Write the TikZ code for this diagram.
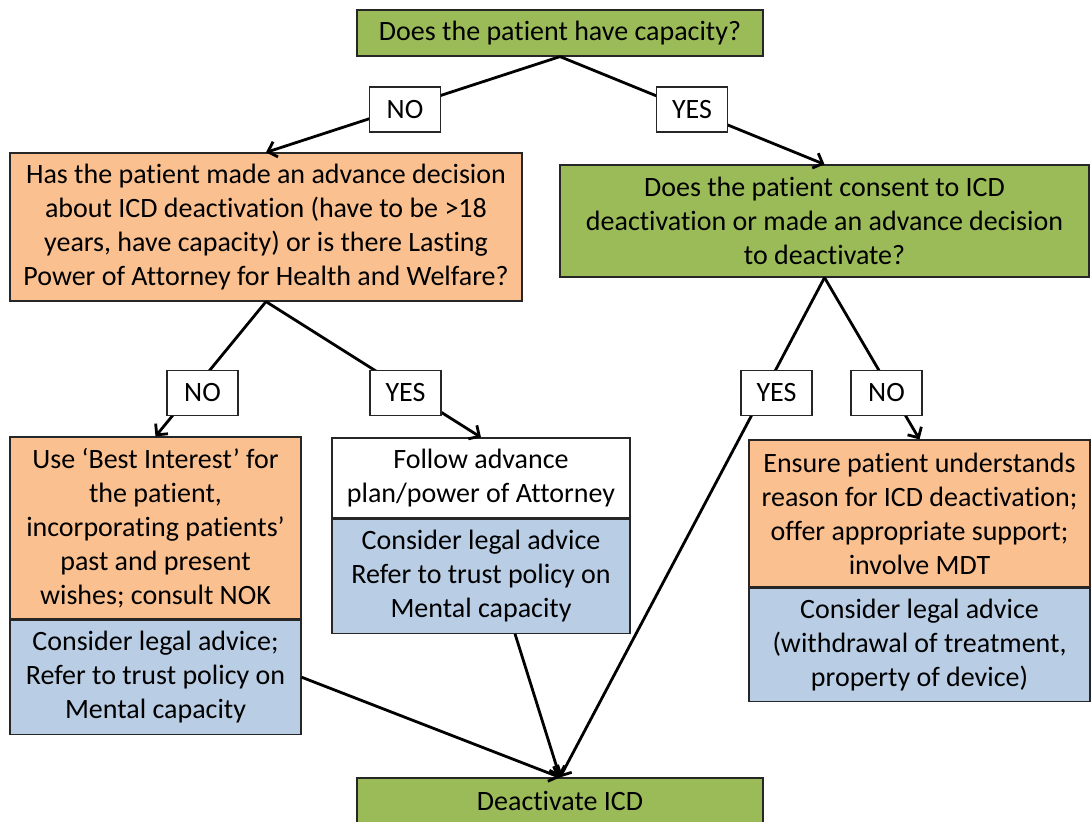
\documentclass[tikz,border=0pt]{standalone}
\usepackage{fontspec}
\setmainfont[Ligatures={TeX,NoCommon}]{Carlito}
\usetikzlibrary{positioning,arrows.meta}
\definecolor{boxgreen}{HTML}{9BBB59}
\definecolor{boxorange}{HTML}{FAC090}
\definecolor{boxblue}{HTML}{B9CDE5}
\begin{document}
\begin{tikzpicture}[x=1pt,y=-1pt,
		box/.style={draw=black!85,line width=1.2pt,rectangle,inner sep=0pt,align=center,font=\fontsize{28}{34}\selectfont},
		greenbox/.style={box,fill=boxgreen},
		orangebox/.style={box,fill=boxorange},
		bluebox/.style={box,fill=boxblue},
		whitebox/.style={box,fill=white},
		answer/.style={box,fill=white,minimum width=71pt,minimum height=45pt},
		conn/.style={line width=2.8pt,-{Straight Barb[length=8pt,width=16pt]}}]
	\useasboundingbox (0,0) rectangle (1091,821);
	% questions
	\node[greenbox,minimum width=406pt,minimum height=46pt] (cap) at (560,33) {Does the patient have capacity?};
	\node[orangebox,minimum width=512pt,minimum height=148pt] (adv) at (266,227) {Has the patient made an advance decision\\about ICD deactivation (have to be >18\\years, have capacity) or is there Lasting\\Power of Attorney for Health and Welfare?};
	\node[greenbox,minimum width=529pt,minimum height=112pt] (cons) at (824.5,221) {Does the patient consent to ICD\\deactivation or made an advance decision\\to deactivate?};
	% actions
	\node[orangebox,minimum width=291pt,minimum height=182pt] (best) at (155.5,528) {Use ‘Best Interest’ for\\the patient,\\incorporating patients’\\past and present\\wishes; consult NOK};
	\node[bluebox,minimum width=291pt,minimum height=114pt,below=0pt of best] (bestlegal) {Consider legal advice;\\Refer to trust policy on\\Mental capacity};
	\node[whitebox,minimum width=298pt,minimum height=80pt] (follow) at (481,478) {Follow advance\\plan/power of Attorney};
	\node[bluebox,minimum width=298pt,minimum height=114pt,below=0pt of follow] (followlegal) {Consider legal advice\\Refer to trust policy on\\Mental capacity};
	\node[orangebox,minimum width=341pt,minimum height=147pt] (ensure) at (919.5,513.5) {Ensure patient understands\\reason for ICD deactivation;\\offer appropriate support;\\involve MDT};
	\node[bluebox,minimum width=341pt,minimum height=113pt,below=0pt of ensure] (ensurelegal) {Consider legal advice\\(withdrawal of treatment,\\property of device)};
	\node[greenbox,minimum width=406pt,minimum height=45pt] (deact) at (560,800.5) {Deactivate ICD};
	% connectors
	\draw[conn] (cap.south) -- (adv.north);
	\draw[conn] (cap.south) -- (cons.north);
	\draw[conn] (adv.south) -- (best.north);
	\draw[conn] (adv.south) -- (follow.north);
	\draw[conn] (cons.south) -- (ensure.north);
	\draw[conn] (cons.south) -- (deact.north);
	\draw[conn] (bestlegal.east) -- (deact.north);
	\draw[conn] ([xshift=34pt]followlegal.south) -- (deact.north);
	% answers
	\node[answer] (no1) at (405,109.5) {NO};
	\node[answer] (yes1) at (692,109.5) {YES};
	\node[answer] (no2) at (202.5,393) {NO};
	\node[answer] (yes2) at (405.5,393) {YES};
	\node[answer] (yes3) at (776.5,393) {YES};
	\node[answer] (no3) at (886.5,393) {NO};
\end{tikzpicture}
\end{document}
